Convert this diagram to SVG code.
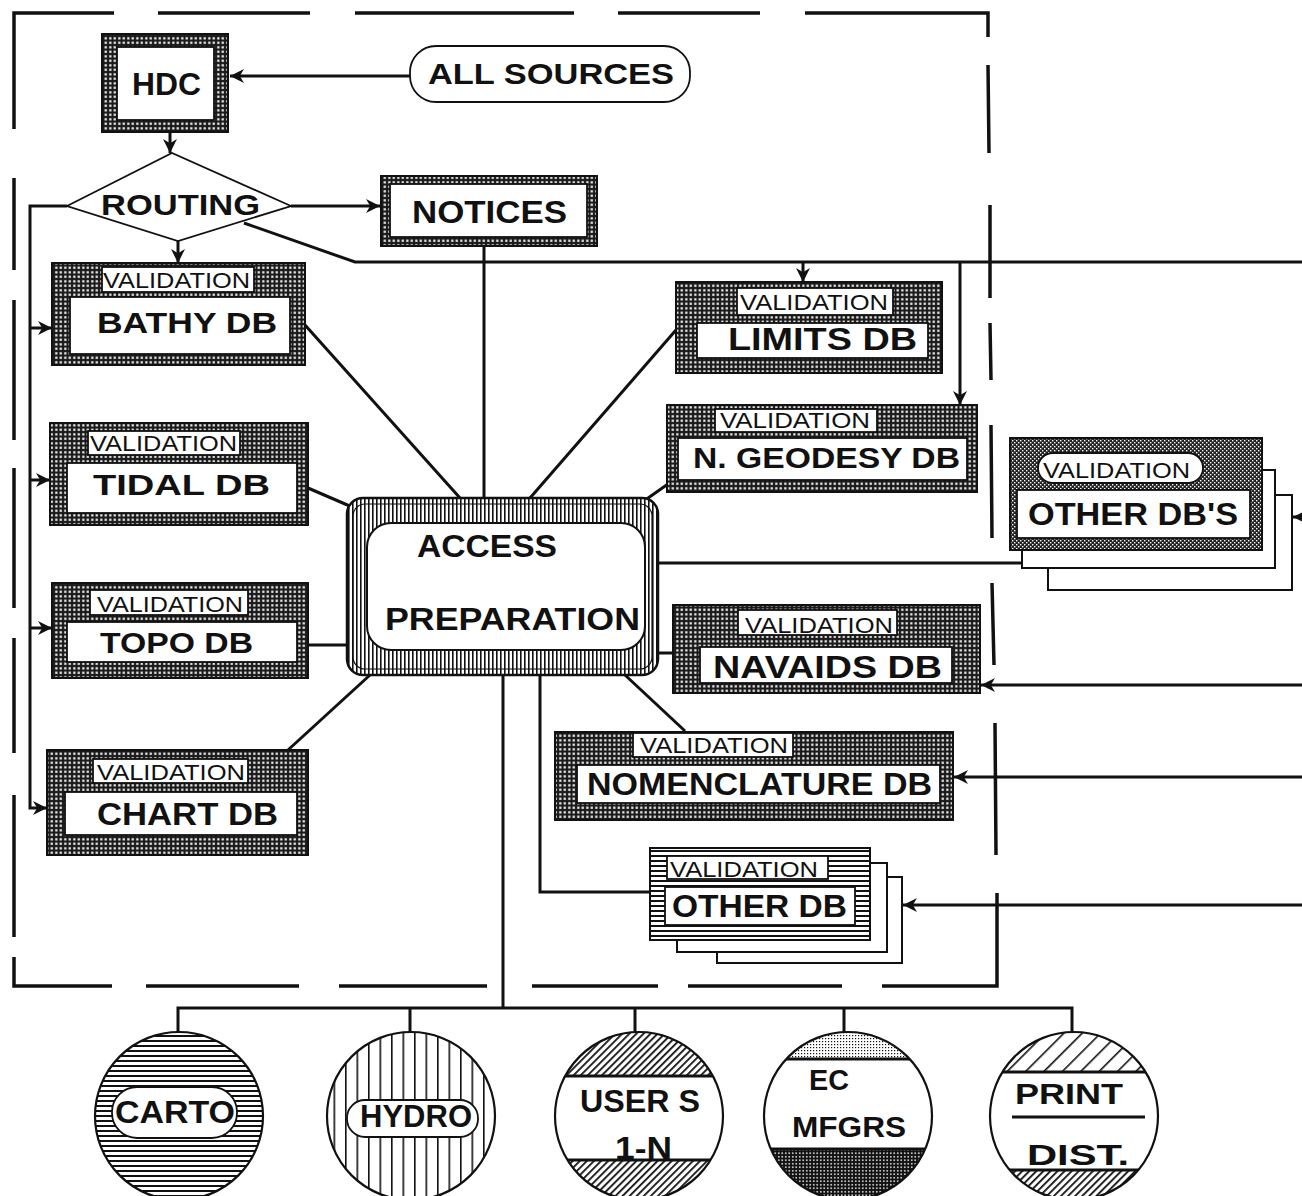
<svg xmlns="http://www.w3.org/2000/svg" width="1302" height="1196" viewBox="0 0 1302 1196">
<style>
.ln{stroke:#111;stroke-width:3;fill:none}
.fr{stroke:#111;stroke-width:3.5;fill:none;stroke-linecap:butt}
.ob{stroke:#111;stroke-width:2}
.w{fill:#fff;stroke:#111;stroke-width:1.8}
.t{font-family:"Liberation Sans",Arial,sans-serif;font-weight:bold;fill:#111}
.v{font-family:"Liberation Sans",Arial,sans-serif;fill:#111;font-size:22px}
.cc{stroke:#111;stroke-width:2.2}
</style>
<defs>
<pattern id="stip" width="4.5" height="4.5" patternUnits="userSpaceOnUse"><rect width="4.5" height="4.5" fill="#1a1a1a"/><rect x="1.2" y="1.2" width="2.2" height="2.2" fill="#fff"/></pattern>
<pattern id="dense" width="4" height="4" patternUnits="userSpaceOnUse"><rect width="4" height="4" fill="#222"/><rect x="0" y="0" width="1.4" height="1.4" fill="#fff"/><rect x="2" y="2" width="1.4" height="1.4" fill="#fff"/></pattern>
<pattern id="vstripe" width="4" height="4" patternUnits="userSpaceOnUse"><rect width="4" height="4" fill="#fff"/><rect x="0" width="1.6" height="4" fill="#111"/></pattern>
<pattern id="hstripe" width="5" height="5" patternUnits="userSpaceOnUse"><rect width="5" height="5" fill="#fff"/><rect width="5" height="2" fill="#111"/></pattern>
<pattern id="hydro" width="11.5" height="10" patternUnits="userSpaceOnUse"><rect width="11.5" height="10" fill="#fff"/><rect width="1.6" height="10" fill="#111"/></pattern>
<pattern id="diag" width="5" height="5" patternUnits="userSpaceOnUse" patternTransform="rotate(45)"><rect width="5" height="5" fill="#fff"/><rect width="1.8" height="5" fill="#111"/></pattern>
<pattern id="diagw" width="13" height="13" patternUnits="userSpaceOnUse" patternTransform="rotate(45)"><rect width="13" height="13" fill="#fff"/><rect width="1.6" height="13" fill="#111"/></pattern>
<pattern id="dots" width="3" height="3" patternUnits="userSpaceOnUse"><rect width="3" height="3" fill="#fff"/><rect width="1.2" height="1.2" fill="#111"/></pattern>
<pattern id="grid" width="3.5" height="3.5" patternUnits="userSpaceOnUse"><rect width="3.5" height="3.5" fill="#111"/><rect x="1" y="1" width="1.5" height="1.5" fill="#fff"/></pattern>
<marker id="ah" viewBox="0 0 10 10" refX="10" refY="5" markerWidth="14" markerHeight="14" markerUnits="userSpaceOnUse" orient="auto"><path d="M0,0 L10,5 L0,10 L3,5 Z" fill="#111"/></marker>
<clipPath id="cU"><circle cx="639" cy="1116" r="84"/></clipPath>
<clipPath id="cE"><circle cx="848" cy="1116" r="84"/></clipPath>
<clipPath id="cP"><circle cx="1074" cy="1116" r="84"/></clipPath>
</defs>
<rect width="1302" height="1196" fill="#fff"/>

<g id="frame">
<path class="fr" d="M14,129 L14,13 L114,13 M158,13 L310,13 M355,13 L574,13 M618,13 L760,13 M805,13 L988,13 L988,37 M988,65 L989,153 M990,205 L990,298 M990,323 L991,380 M991,425 L992,538 M992,583 L994,665 M995,723 L996,855 M997,893 L997,986 L882,986 M842,986 L688,986 M658,986 L532,986 M487,986 L339,986 M299,986 L146,986 M112,986 L14,986 L14,957 M14,937 L14,795 M14,753 L14,638 M14,608 L14,468 M14,440 L14,300 M14,270 L14,178"/>
</g>

<g id="connectors">
<path class="ln" d="M410,76 L230,76" marker-end="url(#ah)"/>
<path class="ln" d="M170,132 L170,153" marker-end="url(#ah)"/>
<path class="ln" d="M291,206 L380,206" marker-end="url(#ah)"/>
<path class="ln" d="M178,240 L178,263" marker-end="url(#ah)"/>
<path class="ln" d="M67,206 L30,206 L30,808 L47,808" marker-end="url(#ah)"/>
<path class="ln" d="M30,328 L52,328" marker-end="url(#ah)"/>
<path class="ln" d="M30,480 L50,480" marker-end="url(#ah)"/>
<path class="ln" d="M30,628 L52,628" marker-end="url(#ah)"/>
<path class="ln" d="M244,223 L355,262 L1302,262"/>
<path class="ln" d="M803,262 L803,282" marker-end="url(#ah)"/>
<path class="ln" d="M960,262 L960,405" marker-end="url(#ah)"/>
<path class="ln" d="M484,247 L484,498"/>
<path class="ln" d="M305,325 L460,498"/>
<path class="ln" d="M308,488 L352,507"/>
<path class="ln" d="M308,645 L347,645"/>
<path class="ln" d="M288,750 L370,675"/>
<path class="ln" d="M676,330 L530,498"/>
<path class="ln" d="M668,484 L641,503"/>
<path class="ln" d="M658,563 L1022,563"/>
<path class="ln" d="M656,653 L673,653"/>
<path class="ln" d="M625,675 L685,731"/>
<path class="ln" d="M503,675 L503,1008"/>
<path class="ln" d="M540,675 L540,892 L650,892"/>
<path class="ln" d="M178,1032 L178,1008 L1072,1008 L1072,1032 M410,1008 L410,1032 M635,1008 L635,1032 M844,1008 L844,1032"/>
<path class="ln" d="M1302,517 L1293,517" marker-end="url(#ah)"/>
<path class="ln" d="M1302,685 L981,685" marker-end="url(#ah)"/>
<path class="ln" d="M1302,777 L954,777" marker-end="url(#ah)"/>
<path class="ln" d="M1302,905 L903,905" marker-end="url(#ah)"/>
</g>

<g id="hdc">
<rect class="ob" x="102" y="34" width="126" height="98" fill="url(#stip)"/>
<rect class="w" x="117" y="47" width="97" height="73"/>
<text class="t" x="132" y="95" font-size="32" textLength="69" lengthAdjust="spacingAndGlyphs">HDC</text>
</g>
<g id="allsources">
<rect class="w" x="410" y="46" width="280" height="56" rx="26" stroke-width="2.2"/>
<text class="t" x="428" y="84" font-size="30" textLength="246" lengthAdjust="spacingAndGlyphs">ALL SOURCES</text>
</g>
<g id="routing">
<path class="w" d="M67,206 L172,153 L291,206 L178,241 Z" stroke-width="2"/>
<text class="t" x="101" y="215" font-size="30" textLength="159" lengthAdjust="spacingAndGlyphs">ROUTING</text>
</g>
<g id="notices">
<rect class="ob" x="381" y="176" width="216" height="70" fill="url(#stip)"/>
<rect class="w" x="390" y="184" width="197" height="53"/>
<text class="t" x="412" y="223" font-size="31" textLength="155" lengthAdjust="spacingAndGlyphs">NOTICES</text>
</g>

<g id="bathy">
<rect class="ob" x="52" y="263" width="253" height="102" fill="url(#stip)"/>
<rect class="w" x="102" y="267" width="152" height="25"/>
<rect class="w" x="70" y="297" width="220" height="57"/>
<text class="v" x="103" y="288" textLength="147" lengthAdjust="spacingAndGlyphs">VALIDATION</text>
<text class="t" x="97" y="333" font-size="29" textLength="180" lengthAdjust="spacingAndGlyphs">BATHY DB</text>
</g>
<g id="tidal">
<rect class="ob" x="50" y="423" width="258" height="102" fill="url(#stip)"/>
<rect class="w" x="88" y="431" width="152" height="24"/>
<rect class="w" x="67" y="463" width="230" height="50"/>
<text class="v" x="90" y="451" textLength="147" lengthAdjust="spacingAndGlyphs">VALIDATION</text>
<text class="t" x="93" y="495" font-size="30" textLength="177" lengthAdjust="spacingAndGlyphs">TIDAL DB</text>
</g>
<g id="topo">
<rect class="ob" x="52" y="583" width="256" height="95" fill="url(#stip)"/>
<rect class="w" x="90" y="590" width="158" height="25"/>
<rect class="w" x="67" y="622" width="230" height="40"/>
<text class="v" x="97" y="612" textLength="146" lengthAdjust="spacingAndGlyphs">VALIDATION</text>
<text class="t" x="100" y="653" font-size="29" textLength="153" lengthAdjust="spacingAndGlyphs">TOPO DB</text>
</g>
<g id="chart">
<rect class="ob" x="47" y="750" width="261" height="105" fill="url(#stip)"/>
<rect class="w" x="93" y="759" width="155" height="24"/>
<rect class="w" x="65" y="792" width="232" height="43"/>
<text class="v" x="97" y="780" textLength="148" lengthAdjust="spacingAndGlyphs">VALIDATION</text>
<text class="t" x="97" y="825" font-size="31" textLength="181" lengthAdjust="spacingAndGlyphs">CHART DB</text>
</g>

<g id="access">
<rect x="347" y="498" width="311" height="177" rx="16" fill="url(#vstripe)" stroke="#111" stroke-width="2.5"/>
<rect x="353" y="504" width="299" height="165" rx="12" fill="none" stroke="#111" stroke-width="1.2"/>
<rect x="367" y="523" width="278" height="127" rx="24" fill="#fff" stroke="#111" stroke-width="2"/>
<text class="t" x="417" y="557" font-size="32" textLength="140" lengthAdjust="spacingAndGlyphs">ACCESS</text>
<text class="t" x="385" y="630" font-size="32" textLength="255" lengthAdjust="spacingAndGlyphs">PREPARATION</text>
</g>

<g id="limits">
<rect class="ob" x="676" y="282" width="266" height="91" fill="url(#stip)"/>
<rect class="w" x="737" y="288" width="156" height="27"/>
<rect class="w" x="697" y="323" width="231" height="35"/>
<text class="v" x="740" y="310" textLength="148" lengthAdjust="spacingAndGlyphs">VALIDATION</text>
<text class="t" x="728" y="350" font-size="31" textLength="189" lengthAdjust="spacingAndGlyphs">LIMITS DB</text>
</g>
<g id="geodesy">
<rect class="ob" x="667" y="405" width="310" height="87" fill="url(#stip)"/>
<rect class="w" x="715" y="409" width="162" height="23"/>
<rect class="w" x="678" y="438" width="289" height="42"/>
<text class="v" x="720" y="428" textLength="150" lengthAdjust="spacingAndGlyphs">VALIDATION</text>
<text class="t" x="693" y="468" font-size="29" textLength="267" lengthAdjust="spacingAndGlyphs">N. GEODESY DB</text>
</g>
<g id="otherdbs">
<rect x="1048" y="495" width="244" height="95" fill="#fff" stroke="#111" stroke-width="2"/>
<rect x="1022" y="470" width="253" height="98" fill="#fff" stroke="#111" stroke-width="2"/>
<rect class="ob" x="1010" y="438" width="252" height="112" fill="url(#dense)"/>
<rect class="w" x="1038" y="453" width="165" height="30" rx="15"/>
<rect class="w" x="1017" y="490" width="233" height="48"/>
<text class="v" x="1043" y="478" textLength="147" lengthAdjust="spacingAndGlyphs">VALIDATION</text>
<text class="t" x="1028" y="525" font-size="31" textLength="210" lengthAdjust="spacingAndGlyphs">OTHER DB'S</text>
</g>
<g id="navaids">
<rect class="ob" x="673" y="605" width="307" height="88" fill="url(#stip)"/>
<rect class="w" x="738" y="610" width="159" height="25"/>
<rect class="w" x="700" y="647" width="252" height="36"/>
<text class="v" x="745" y="633" textLength="148" lengthAdjust="spacingAndGlyphs">VALIDATION</text>
<text class="t" x="713" y="678" font-size="32" textLength="229" lengthAdjust="spacingAndGlyphs">NAVAIDS DB</text>
</g>
<g id="nomenclature">
<rect class="ob" x="555" y="732" width="398" height="88" fill="url(#stip)"/>
<rect class="w" x="633" y="733" width="160" height="24"/>
<rect class="w" x="577" y="765" width="363" height="38"/>
<text class="v" x="640" y="753" textLength="148" lengthAdjust="spacingAndGlyphs">VALIDATION</text>
<text class="t" x="587" y="795" font-size="31" textLength="345" lengthAdjust="spacingAndGlyphs">NOMENCLATURE DB</text>
</g>
<g id="otherdb">
<rect x="717" y="877" width="185" height="86" fill="#fff" stroke="#111" stroke-width="2"/>
<rect x="677" y="863" width="210" height="89" fill="#fff" stroke="#111" stroke-width="2"/>
<rect class="ob" x="650" y="848" width="220" height="92" fill="url(#hstripe)"/>
<rect class="w" x="667" y="856" width="161" height="23"/>
<rect class="w" x="665" y="887" width="190" height="38"/>
<text class="v" x="670" y="877" textLength="148" lengthAdjust="spacingAndGlyphs">VALIDATION</text>
<text class="t" x="672" y="917" font-size="32" textLength="175" lengthAdjust="spacingAndGlyphs">OTHER DB</text>
</g>

<g id="carto">
<circle class="cc" cx="179" cy="1116" r="84" fill="url(#hstripe)"/>
<rect class="w" x="112" y="1087" width="125" height="51" rx="25" stroke-width="2"/>
<text class="t" x="115" y="1123" font-size="31" textLength="120" lengthAdjust="spacingAndGlyphs">CARTO</text>
</g>
<g id="hydro">
<circle class="cc" cx="411" cy="1116" r="84" fill="url(#hydro)"/>
<rect class="w" x="347" y="1100" width="131" height="37" rx="18" stroke-width="2"/>
<text class="t" x="360" y="1127" font-size="31" textLength="112" lengthAdjust="spacingAndGlyphs">HYDRO</text>
</g>
<g id="users">
<circle cx="639" cy="1116" r="84" fill="#fff"/>
<g clip-path="url(#cU)">
<rect x="550" y="1030" width="180" height="46" fill="url(#diag)"/>
<rect x="550" y="1160" width="180" height="50" fill="url(#diag)"/>
<path class="ln" d="M550,1076 L730,1076 M550,1160 L730,1160" stroke-width="2.5"/>
</g>
<circle class="cc" cx="639" cy="1116" r="84" fill="none"/>
<text class="t" x="580" y="1112" font-size="31" textLength="120" lengthAdjust="spacingAndGlyphs">USER S</text>
<text class="t" x="615" y="1159" font-size="31" textLength="57" lengthAdjust="spacingAndGlyphs">1-N</text>
</g>
<g id="ec">
<circle cx="848" cy="1116" r="84" fill="#fff"/>
<g clip-path="url(#cE)">
<rect x="760" y="1030" width="180" height="29" fill="url(#dots)"/>
<rect x="760" y="1149" width="180" height="60" fill="url(#grid)"/>
<path class="ln" d="M760,1059 L940,1059 M760,1149 L940,1149" stroke-width="2.5"/>
</g>
<circle class="cc" cx="848" cy="1116" r="84" fill="none"/>
<text class="t" x="809" y="1090" font-size="29" textLength="40" lengthAdjust="spacingAndGlyphs">EC</text>
<text class="t" x="792" y="1137" font-size="29" textLength="114" lengthAdjust="spacingAndGlyphs">MFGRS</text>
</g>
<g id="print">
<circle cx="1074" cy="1116" r="84" fill="#fff"/>
<g clip-path="url(#cP)">
<rect x="985" y="1030" width="180" height="42" fill="url(#diagw)"/>
<rect x="985" y="1170" width="180" height="40" fill="url(#diag)"/>
<path class="ln" d="M985,1072 L1165,1072 M985,1170 L1165,1170" stroke-width="2.5"/>
</g>
<circle class="cc" cx="1074" cy="1116" r="84" fill="none"/>
<path class="ln" d="M1012,1117 L1145,1117" stroke-width="2.5"/>
<text class="t" x="1015" y="1104" font-size="30" textLength="108" lengthAdjust="spacingAndGlyphs">PRINT</text>
<text class="t" x="1027" y="1165" font-size="30" textLength="102" lengthAdjust="spacingAndGlyphs">DIST.</text>
</g>
</svg>
